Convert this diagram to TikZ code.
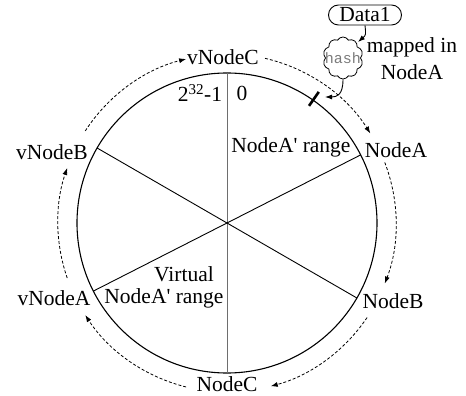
\documentclass[tikz,border=0pt]{standalone}
\usepackage{fontspec}
\setmainfont{Liberation Serif}
\setmonofont{Liberation Mono}
\usepackage{tikz}
\usetikzlibrary{
  arrows.meta,
  shapes.symbols
}
\definecolor{RingGray}{HTML}{6E6E6E}
\definecolor{HashGray}{HTML}{7A7A7A}
\tikzset{
  label/.style={
    inner sep=1pt,
    align=center,
    font=\fontsize{21.5}{27}\selectfont
  },
  ring/.style={
    line width=1.1pt
  },
  spoke/.style={
    line width=0.9pt
  },
  hop/.style={
    -{Latex[length=7pt,width=5pt]},
    dash pattern=on 3pt off 2pt,
    line width=0.8pt
  },
  feed/.style={
    -{Latex[length=7pt,width=5pt]},
    line width=0.9pt
  },
  datum/.style={
    draw,
    line width=0.9pt,
    rounded corners=10pt,
    minimum width=73pt,
    minimum height=20pt,
    inner sep=0pt,
    font=\fontsize{21.5}{27}\selectfont
  },
  hasher/.style={
    cloud,
    draw,
    cloud puffs=10,
    cloud puff arc=120,
    aspect=1,
    line width=0.8pt,
    minimum width=40pt,
    minimum height=42pt,
    inner sep=4pt,
    text=HashGray,
    font=\ttfamily\fontsize{15}{15}\selectfont
  }
}
\begin{document}
\begin{tikzpicture}[x=1pt,y=1pt]

  \useasboundingbox (-227,-173) rectangle (239,223);

  % ring and its three diameters
  \coordinate (hub) at (0,0);
  \draw[ring] (hub) circle[radius=150pt];
  \draw[spoke,RingGray] (90:150) -- (270:150);
  \draw[spoke] (27:150) -- (207:150);
  \draw[spoke] (150:150) -- (330:150);

  % outer hops, all clockwise
  \foreach \a/\b in {77/32,21/-21,-34/-75,-104/-147,199/161,147/104} {
    \draw[hop]
    (\a:169) arc[start angle=\a, end angle=\b, radius=169pt];
  }

  \node[label] at (-4,166) (vnodec) {vNodeC};
  \node[label] at (169,73) (nodea) {NodeA};
  \node[label] at (166,-78) (nodeb) {NodeB};
  \node[label] at (0,-161) (nodec) {NodeC};
  \node[label] at (-173,-75) (vnodea) {vNodeA};
  \node[label] at (-175,71) (vnodeb) {vNodeB};

  \node[label] at (-27,130) (top) {2\textsuperscript{32}-1};
  \node[label] at (15,130) (zero) {0};
  \node[label] at (64,76) (rangea) {NodeA\textquotesingle{} range};
  \node[label] at (-43,-51) (virt) {Virtual};
  \node[label] at (-63,-75) (rangev) {NodeA\textquotesingle{} range};

  % data item hashed onto the ring
  \node[datum] at (138,208) (data) {Data1};
  \node[hasher] at (116,165) (hash) {\makebox[0pt]{hash}};
  \node[label] at (185,164) (mapped) {mapped in\\NodeA};

  \draw[line width=2.6pt] (55:143) -- (55:160);
  \coordinate (hit) at (98,126);

  \draw[feed]
  (data.south) ..
  controls (139,188) ..
  (131,181);

  \draw[feed]
  (hash.south) ..
  controls (116,128) and (110,126) ..
  (hit);

\end{tikzpicture}
\end{document}
